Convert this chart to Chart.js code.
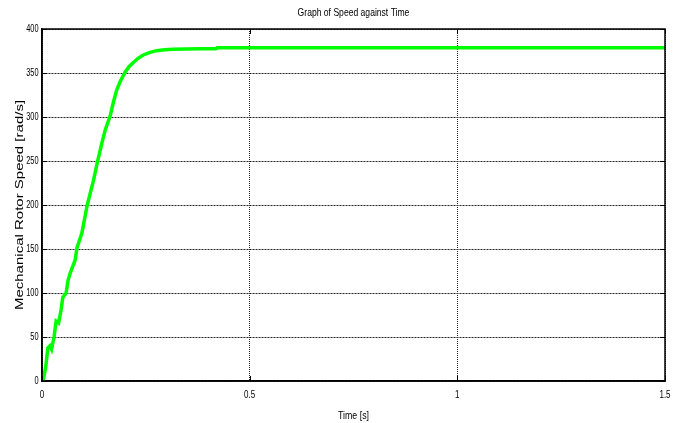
<!DOCTYPE html>
<html>
<head>
<meta charset="utf-8">
<script src="https://cdn.jsdelivr.net/npm/chart.js@4/dist/chart.umd.min.js"></script>
<style>
html,body{margin:0;padding:0;background:#fff;}
#wrap{width:681px;height:423px;}
</style>
</head>
<body>
<div id="wrap"><canvas id="c" width="681" height="423"></canvas></div>
<script>
// Data
const timeSeconds = [0, 0.003, 0.009, 0.014, 0.019, 0.023, 0.029, 0.034, 0.040, 0.046, 0.050, 0.058, 0.063, 0.069, 0.080, 0.084, 0.096, 0.109, 0.124, 0.134, 0.144, 0.152, 0.164, 0.172, 0.180, 0.188, 0.200, 0.210, 0.220, 0.232, 0.244, 0.260, 0.276, 0.295, 0.316, 0.380, 0.418, 0.422, 0.6, 0.8, 1.0, 1.2, 1.5];
const rotorSpeed  = [0, 1, 16, 37.5, 40, 36, 50, 68, 66, 81, 95, 100, 115, 124, 137.5, 151, 168, 200, 228, 250, 270, 285, 301, 317, 331, 340, 351, 357.5, 362, 367, 370.5, 373.5, 375.4, 376.5, 377, 377.5, 377.6, 378.6, 378.6, 378.6, 378.6, 378.6, 378.6];
const xTickValues = [0, 0.5, 1, 1.5];
const xTickLabels = ['0', '0.5', '1', '1.5'];
const yTickValues = [0, 50, 100, 150, 200, 250, 300, 350, 400];
const yTickLabels = ['0', '50', '100', '150', '200', '250', '300', '350', '400'];
const chartTitle = 'Graph of Speed against Time';
const xAxisTitle = 'Time [s]';
const yAxisTitle = 'Mechanical Rotor Speed [rad/s]';

const FAMILY = "'Liberation Sans', Arial, Helvetica, sans-serif";

function squeezedText(ctx, text, x, y, size, align, baseline, sx) {
  ctx.save();
  ctx.translate(x, y);
  ctx.scale(sx, 1);
  ctx.font = size + 'px ' + FAMILY;
  ctx.fillStyle = '#000';
  ctx.textAlign = align;
  ctx.textBaseline = baseline;
  ctx.fillText(text, 0, 0);
  ctx.restore();
}

const framePlugin = {
  id: 'frame',
  afterDraw(chart) {
    const {ctx, chartArea: a, scales} = chart;
    ctx.save();
    ctx.strokeStyle = '#000';
    ctx.lineWidth = 1;
    const tl = 5;
    ctx.beginPath();
    xTickValues.forEach(v => {
      const x = Math.round(scales.x.getPixelForValue(v)) + 0.5;
      ctx.moveTo(x, a.bottom); ctx.lineTo(x, a.bottom - tl);
      ctx.moveTo(x, a.top); ctx.lineTo(x, a.top + tl);
    });
    yTickValues.forEach(v => {
      const y = Math.round(scales.y.getPixelForValue(v)) + 0.5;
      ctx.moveTo(a.left, y); ctx.lineTo(a.left + tl, y);
      ctx.moveTo(a.right, y); ctx.lineTo(a.right - tl, y);
    });
    ctx.stroke();
    ctx.lineWidth = 1.5;
    ctx.strokeRect(a.left, a.top, a.right - a.left, a.bottom - a.top);
    ctx.restore();

    // Texts (condensed like the reference)
    const cx = (a.left + a.right) / 2;
    squeezedText(ctx, chartTitle, cx, 16, 11, 'center', 'alphabetic', 0.78);
    xTickValues.forEach((v, i) => {
      squeezedText(ctx, xTickLabels[i], scales.x.getPixelForValue(v), a.bottom + 14, 10, 'center', 'middle', 0.8);
    });
    yTickValues.forEach((v, i) => {
      squeezedText(ctx, yTickLabels[i], a.left - 3.5, scales.y.getPixelForValue(v), 10, 'right', 'middle', 0.74);
    });
    squeezedText(ctx, xAxisTitle, cx, 419, 11, 'center', 'alphabetic', 0.8);

    ctx.save();
    ctx.translate(23, (a.top + a.bottom) / 2 + 0);
    ctx.scale(0.75, 1);
    ctx.rotate(-Math.PI / 2);
    ctx.font = '15px ' + FAMILY;
    ctx.fillStyle = '#000';
    ctx.textAlign = 'center';
    ctx.textBaseline = 'alphabetic';
    ctx.fillText(yAxisTitle, 0, 0);
    ctx.restore();
  }
};

new Chart(document.getElementById('c'), {
  type: 'line',
  data: {
    datasets: [{
      data: timeSeconds.map((t, i) => ({x: t, y: rotorSpeed[i]})),
      borderColor: '#00ff00',
      borderWidth: 3.5,
      pointRadius: 0,
      tension: 0,
      fill: false
    }]
  },
  options: {
    responsive: false,
    animation: false,
    devicePixelRatio: 1,
    layout: {padding: {left: 0, right: 16, top: 29, bottom: 0}},
    plugins: {
      legend: {display: false},
      tooltip: {enabled: false},
      title: {display: false}
    },
    scales: {
      x: {
        type: 'linear',
        min: 0, max: 1.5,
        afterBuildTicks: s => { s.ticks = xTickValues.map(v => ({value: v})); },
        afterFit: s => { s.height = 42; },
        ticks: {display: false},
        grid: {color: '#222', lineWidth: 1, drawTicks: false},
        border: {display: true, color: '#000', width: 1.5, dash: [1, 1]},
        title: {display: false}
      },
      y: {
        type: 'linear',
        min: 0, max: 400,
        afterBuildTicks: s => { s.ticks = yTickValues.map(v => ({value: v})); },
        afterFit: s => { s.width = 42; },
        ticks: {display: false},
        grid: {color: '#222', lineWidth: 1, drawTicks: false},
        border: {display: true, color: '#000', width: 1.5, dash: [2, 1]},
        title: {display: false}
      }
    }
  },
  plugins: [framePlugin]
});
</script>
</body>
</html>
